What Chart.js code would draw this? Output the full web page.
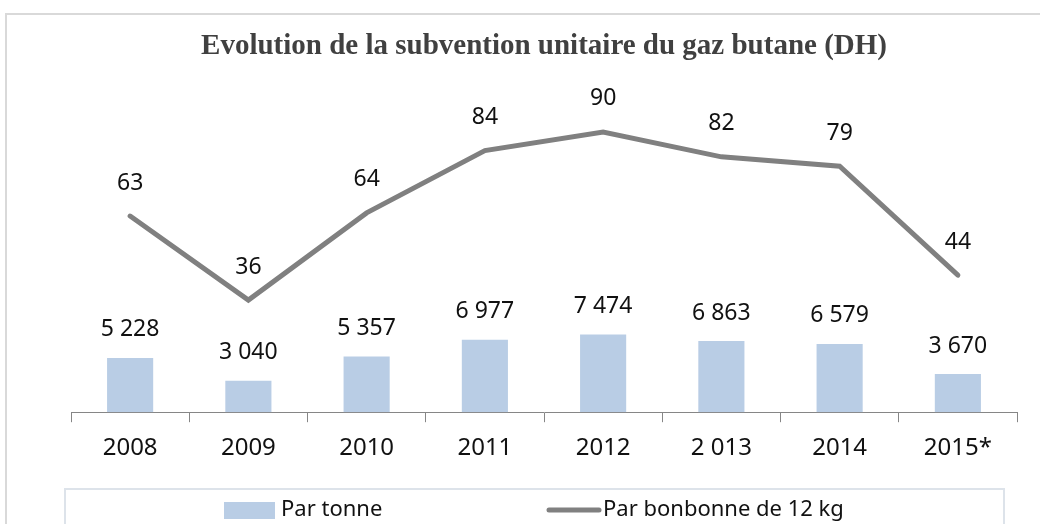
<!DOCTYPE html>
<html>
<head>
<meta charset="utf-8">
<script src="https://cdn.jsdelivr.net/npm/chart.js@4/dist/chart.umd.min.js"></script>
<style>
    body { margin: 0; background: #fff; overflow: hidden; }
    #wrap { position: relative; width: 1040px; height: 524px; }
    #frame {
        position: absolute; left: 5px; top: 13px;
        width: 1100px; height: 600px;
        border: 2px solid #d9d9d9;
    }
    canvas { position: absolute; left: 0; top: 0; }
</style>
</head>
<body>
<div id="wrap">
    <div id="frame"></div>
    <canvas id="chart" width="1040" height="524"></canvas>
</div>
<script>
const years = ["2008", "2009", "2010", "2011", "2012", "2 013", "2014", "2015*"];
const parTonne = [5228, 3040, 5357, 6977, 7474, 6863, 6579, 3670];
const parBonbonne = [63, 36, 64, 84, 90, 82, 79, 44];

const barColor = "#b9cde5";
const lineColor = "#808080";
const labelFont = "23px 'Noto Sans'";

// séparateur de milliers avec espace
function fmt(v) {
    return String(v).replace(/\B(?=(\d{3})+(?!\d))/g, " ");
}

// étiquettes de valeurs
const valueLabels = {
    id: "valueLabels",
    afterDatasetsDraw(chart) {
        const ctx = chart.ctx;
        ctx.save();
        ctx.font = labelFont;
        ctx.fillStyle = "#111";
        ctx.textAlign = "center";
        ctx.textBaseline = "middle";
        chart.data.datasets.forEach((ds, i) => {
            const meta = chart.getDatasetMeta(i);
            const off = ds.type === "line" ? 33 : 28;
            meta.data.forEach((el, j) => {
                ctx.fillText(fmt(ds.data[j]), el.x, el.y - off);
            });
        });
        ctx.restore();
    }
};

// légende dans un cadre
const legendBox = {
    id: "legendBox",
    afterDraw(chart) {
        const ctx = chart.ctx;
        const ds = chart.data.datasets;
        ctx.save();
        ctx.strokeStyle = "#dde3ea";
        ctx.lineWidth = 2;
        ctx.strokeRect(65, 489, 939, 60);

        ctx.font = "22px 'Noto Sans'";
        ctx.textBaseline = "middle";

        ctx.fillStyle = ds[0].backgroundColor;
        ctx.fillRect(224, 502, 51, 17);
        ctx.fillStyle = "#111";
        ctx.fillText(ds[0].label, 281, 510);

        ctx.strokeStyle = ds[1].borderColor;
        ctx.lineWidth = 5;
        ctx.lineCap = "round";
        ctx.beginPath();
        ctx.moveTo(549, 510);
        ctx.lineTo(599, 510);
        ctx.stroke();
        ctx.fillText(ds[1].label, 603, 510);
        ctx.restore();
    }
};

new Chart(document.getElementById("chart"), {
    data: {
        labels: years,
        datasets: [
            {
                type: "bar",
                label: "Par tonne",
                data: parTonne,
                backgroundColor: barColor,
                barPercentage: 0.39,
                categoryPercentage: 1,
                yAxisID: "y",
                order: 2
            },
            {
                type: "line",
                label: "Par bonbonne de 12 kg",
                data: parBonbonne,
                borderColor: lineColor,
                borderWidth: 5,
                borderCapStyle: "round",
                borderJoinStyle: "miter",
                pointRadius: 0,
                tension: 0,
                yAxisID: "y1",
                order: 1
            }
        ]
    },
    options: {
        responsive: false,
        animation: false,
        layout: { padding: { left: 71, right: 23, top: 0, bottom: 49 } },
        plugins: {
            legend: { display: false },
            tooltip: { enabled: false },
            title: {
                display: true,
                text: "Evolution de la subvention unitaire du gaz butane (DH)",
                color: "#404040",
                font: { family: "'Liberation Serif'", size: 29, weight: "bold" },
                padding: { top: 29, bottom: 37 }
            }
        },
        scales: {
            x: {
                grid: {
                    offset: true,
                    drawOnChartArea: false,
                    tickLength: 10,
                    color: "#868686"
                },
                border: { color: "#868686", width: 1 },
                ticks: {
                    color: "#111",
                    font: { family: "'Noto Sans'", size: 24 },
                    padding: 12
                }
            },
            y: { display: false, min: 0, max: 30000 },
            y1: { display: false, min: 0, max: 100 }
        }
    },
    plugins: [valueLabels, legendBox]
});
</script>
</body>
</html>
